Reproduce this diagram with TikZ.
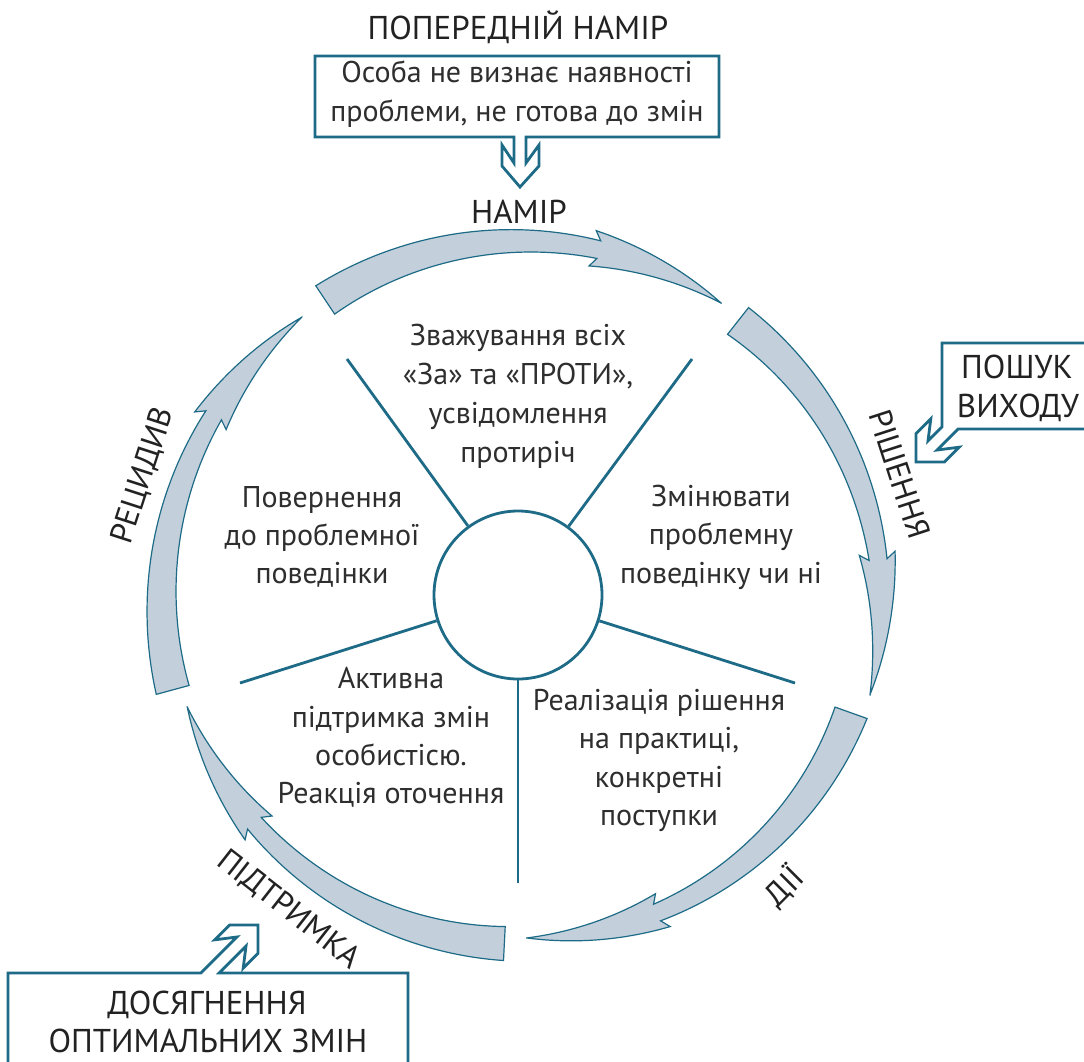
\documentclass[tikz,border=0pt]{standalone}
\usepackage{fontspec}
\setmainfont{PT Sans}
\definecolor{dteal}{HTML}{1D6B86}
\definecolor{afill}{HTML}{C3D0DC}
\definecolor{txt}{HTML}{2E2E2E}
\definecolor{htxt}{HTML}{222222}
% curved band arrow around the ring: #1 tail angle, #2 tip angle, #3 tail radius, #4 tip radius
\newcommand\ringarrow[4]{%
  \pgfmathsetmacro\tA{#1}%
  \pgfmathsetmacro\tT{#2}%
  \pgfmathsetmacro\rA{#3}%
  \pgfmathsetmacro\rT{#4}%
  \pgfmathsetmacro\tJ{(\tA)+0.68*((\tT)-(\tA))}%
  \pgfmathsetmacro\tB{(\tJ)-0.015*((\tT)-(\tA))}%
  \pgfmathsetmacro\rJ{(\rA)+0.68*((\rT)-(\rA))}%
  \pgfmathsetmacro\rB{(\rA)+0.665*((\rT)-(\rA))}%
  \path[arrowband]
    plot[domain=\tA:\tJ,samples=40] ({-1*(\x)}:{(\rA)+((\x)-(\tA))/((\tT)-(\tA))*((\rT)-(\rA))+17-8*((\x)-(\tA))/((\tJ)-(\tA))})
    -- ({-1*(\tB)}:{(\rB)+18})
    -- plot[domain=\tB:\tT,samples=30] ({-1*(\x)}:{(\rA)+((\x)-(\tA))/((\tT)-(\tA))*((\rT)-(\rA))+18*((\x)-(\tT))/((\tB)-(\tT))})
    -- plot[domain=\tT:\tB,samples=30] ({-1*(\x)}:{(\rA)+((\x)-(\tA))/((\tT)-(\tA))*((\rT)-(\rA))-18*((\x)-(\tT))/((\tB)-(\tT))})
    -- ({-1*(\tJ)}:{(\rJ)-9})
    -- plot[domain=\tJ:\tA,samples=40] ({-1*(\x)}:{(\rA)+((\x)-(\tA))/((\tT)-(\tA))*((\rT)-(\rA))-17+8*((\x)-(\tA))/((\tJ)-(\tA))})
    -- cycle;
}
\begin{document}
\begin{tikzpicture}[x=1pt,y=-1pt,
  arrowband/.style={fill=afill,draw=dteal,line width=1.2pt,line join=miter},
  callout/.style={draw=dteal,line width=2.8pt,fill=white,line join=miter},
  spoke/.style={draw=dteal,line width=2.8pt},
  body/.style={text=txt,font=\fontsize{30}{36}\selectfont,inner sep=0pt,anchor=base},
  head/.style={text=htxt,font=\fontsize{33}{39}\selectfont,inner sep=0pt,anchor=base},
  ringlbl/.style={text=htxt,font=\fontsize{32}{38}\selectfont,inner sep=0pt,text height=23pt,text depth=0pt,anchor=center}]
\useasboundingbox (0,0) rectangle (1084,1062);
\fill[white] (0,0) rectangle (1084,1062);
\clip (0,0) rectangle (1084,1062);

% ring of arrows
\begin{scope}[shift={(522,595)}]
  \ringarrow{123.7}{55.7}{354.7}{353.4}
  \ringarrow{51.75}{-16}{349}{362}
  \ringarrow{-19.7}{-89.2}{349.5}{343}
  \ringarrow{267.1}{198.5}{349}{353}
  \ringarrow{195.2}{128.4}{362}{354.5}
\end{scope}

% hub and spokes
\node[circle,draw=dteal,line width=2.8pt,fill=white,minimum size=168pt,inner sep=0pt] (hub) at (518,595) {};
\coordinate (sp1) at (347,359);
\coordinate (sp2) at (692,359);
\coordinate (sp3) at (795,683);
\coordinate (sp4) at (518,883);
\coordinate (sp5) at (240,683);
\foreach \s in {sp1,sp2,sp3,sp4,sp5} \draw[spoke] (hub) -- (\s);

% inner texts
\node[body] (a1) at (518,345) {Зважування всіх};
\node[body] (a2) at (518,384) {«За» та «ПРОТИ»,};
\node[body] (a3) at (518,423) {усвідомлення};
\node[body] (a4) at (518,462) {протиріч};

\node[body] (b1) at (721,506) {Змінювати};
\node[body] (b2) at (721,544.5) {проблемну};
\node[body] (b3) at (721,583) {поведінку чи ні};

\node[body] (c1) at (322,507) {Повернення};
\node[body] (c2) at (322,545) {до проблемної};
\node[body] (c3) at (322,583) {поведінки};

\node[body] (d1) at (391,688) {Активна};
\node[body] (d2) at (391,727) {підтримка змін};
\node[body] (d3) at (391,765) {особистісю.};
\node[body] (d4) at (391,803) {Реакція оточення};

\node[body] (e1) at (659,710) {Реалізація рішення};
\node[body] (e2) at (659,748) {на практиці,};
\node[body] (e3) at (659,787) {конкретні};
\node[body] (e4) at (659,825) {поступки};

% ring labels
\node[ringlbl,rotate=-72] (lr) at (900,474) {РІШЕННЯ};
\node[ringlbl,rotate=72] (ll) at (141,475) {РЕЦИДИВ};
\node[ringlbl,rotate=45] (ld) at (784,886) {ДІЇ};
\node[ringlbl,rotate=-38] (lp) at (290,908) {ПІДТРИМКА};

% top callout
\node[head] (pre) at (518,40) {ПОПЕРЕДНІЙ НАМІР};
\draw[callout] (514,137) -- (315,137) -- (315,56) -- (719,56) -- (719,137) -- (526,137)
  -- (526,163) -- (539,145) -- (539,166) -- (520,187) -- (502,166) -- (502,145) -- (514,163) -- cycle;
\node[body] (p1) at (517,83) {Особа не визнає наявності};
\node[body] (p2) at (517,122) {проблеми, не готова до змін};
\node[head] (nam) at (519,223) {НАМІР};

% right callout
\draw[callout] (942,343) -- (942,426.8) -- (928,440.8) -- (930.8,418.9) -- (916,433.7) -- (916,462)
  -- (944.3,462) -- (959.1,447.2) -- (937.2,450) -- (958.2,429) -- (1100,429) -- (1100,343) -- cycle;
\node[head] (q1) at (1017,378) {ПОШУК};
\node[head] (q2) at (1018,417) {ВИХОДУ};

% bottom-left callout
\draw[callout] (200.8,973) -- (8,973) -- (8,1100) -- (408,1100) -- (408,973) -- (219.2,973)
  -- (246,946.2) -- (243.2,968.1) -- (258,953.3) -- (258,925) -- (229.7,925) -- (214.9,939.8) -- (236.8,937) -- cycle;
\node[head] (r1) at (207,1014) {ДОСЯГНЕННЯ};
\node[head] (r2) at (208,1052) {ОПТИМАЛЬНИХ ЗМІН};
\end{tikzpicture}
\end{document}
